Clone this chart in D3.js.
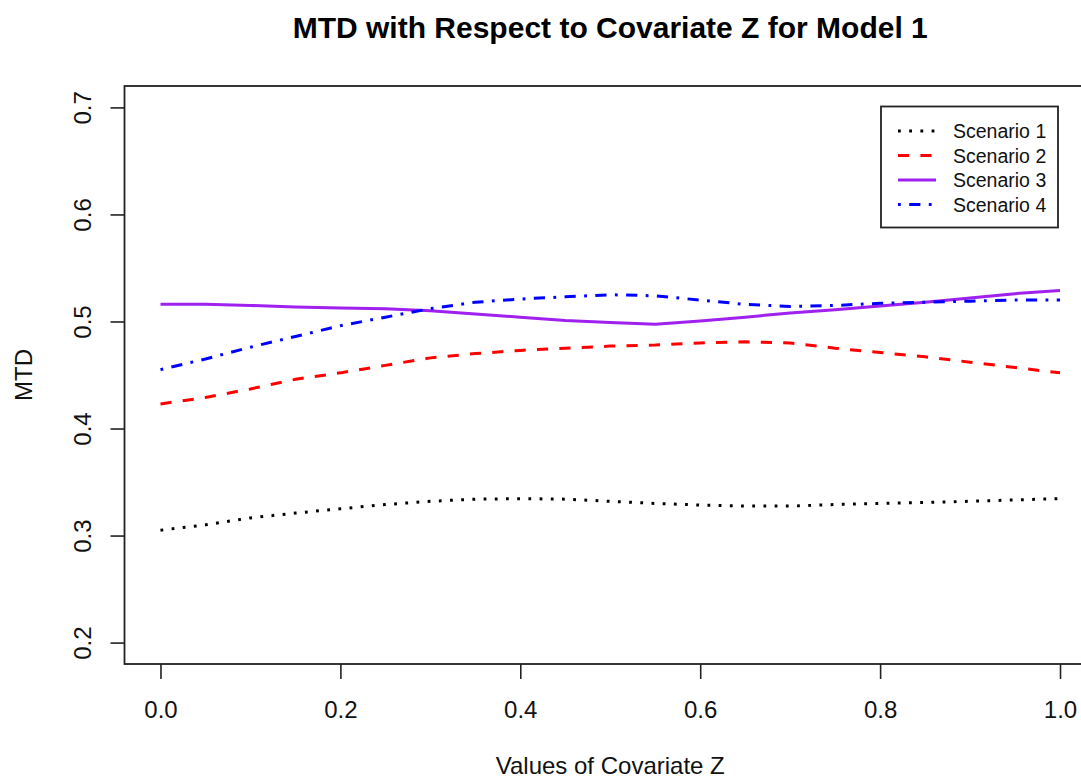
<!DOCTYPE html>
<html>
<head>
<meta charset="utf-8">
<script src="https://cdn.jsdelivr.net/npm/d3@7"></script>
<style>
  html, body { margin: 0; padding: 0; background: #fff; }
  svg { display: block; font-family: "Liberation Sans", Arial, sans-serif; }
</style>
</head>
<body>
<svg id="chart" width="1081" height="780"></svg>
<script>
// ---- data ----
const zValues = [0.00, 0.05, 0.10, 0.15, 0.20, 0.25, 0.30, 0.35, 0.40, 0.45, 0.50,
                 0.55, 0.60, 0.65, 0.70, 0.75, 0.80, 0.85, 0.90, 0.95, 1.00];
const scenario1 = [0.305, 0.310, 0.3165, 0.321, 0.325, 0.329, 0.332, 0.334, 0.3345, 0.334, 0.332,
                   0.330, 0.3285, 0.3275, 0.3275, 0.329, 0.330, 0.331, 0.332, 0.3333, 0.3345];
const scenario2 = [0.423, 0.429, 0.437, 0.446, 0.452, 0.459, 0.466, 0.470, 0.473, 0.475, 0.477,
                   0.478, 0.480, 0.481, 0.480, 0.475, 0.471, 0.467, 0.462, 0.457, 0.452];
const scenario3 = [0.516, 0.516, 0.515, 0.5135, 0.5125, 0.512, 0.510, 0.507, 0.504, 0.501, 0.499,
                   0.4975, 0.5005, 0.504, 0.508, 0.511, 0.5145, 0.518, 0.522, 0.526, 0.529];
const scenario4 = [0.455, 0.465, 0.476, 0.486, 0.496, 0.504, 0.512, 0.518, 0.521, 0.523, 0.525,
                   0.524, 0.520, 0.516, 0.514, 0.515, 0.517, 0.518, 0.519, 0.520, 0.520];
const seriesNames = ["Scenario 1", "Scenario 2", "Scenario 3", "Scenario 4"];
const xTicks = [0.0, 0.2, 0.4, 0.6, 0.8, 1.0];
const yTicks = [0.2, 0.3, 0.4, 0.5, 0.6, 0.7];
const titleText = "MTD with Respect to Covariate Z for Model 1";
const xLabel = "Values of Covariate Z";
const yLabel = "MTD";

// ---- styles ----
const seriesColors = ["#000000", "#ff0000", "#a020f0", "#0000ff"];
const u = 2.8;
const seriesDash = [`${u},${3*u}`, `${4*u},${4*u}`, null, `${u},${3*u},${4*u},${3*u}`];

const svg = d3.select("#chart");
const mLeft = 124.5, mRight = 1096, mTop = 86, mBottom = 664;

const x = d3.scaleLinear().domain([-0.04, 1.04]).range([mLeft, mRight]);
const y = d3.scaleLinear().domain([0.18, 0.72]).range([mBottom, mTop]);

// title
svg.append("text")
  .attr("x", (mLeft + mRight) / 2).attr("y", 38)
  .attr("text-anchor", "middle")
  .attr("font-size", 30).attr("font-weight", "bold")
  .attr("fill", "#000")
  .text(titleText);

// x axis
const gx = svg.append("g").attr("transform", `translate(0,${mBottom})`)
  .call(d3.axisBottom(x).tickValues(xTicks).tickFormat(d3.format(".1f")).tickSize(15).tickSizeOuter(0));
gx.select(".domain").remove();
gx.selectAll(".tick line").attr("stroke", "#222").attr("stroke-width", 1.6);
gx.selectAll(".tick text").attr("y", 54).attr("dy", 0)
  .attr("font-size", 24).attr("font-family", "Liberation Sans, Arial, sans-serif").attr("fill", "#111");

// y axis
const gy = svg.append("g").attr("transform", `translate(${mLeft},0)`)
  .call(d3.axisLeft(y).tickValues(yTicks).tickFormat(d3.format(".1f")).tickSize(14).tickSizeOuter(0));
gy.select(".domain").remove();
gy.selectAll(".tick line").attr("stroke", "#222").attr("stroke-width", 1.6);
gy.selectAll(".tick text")
  .attr("x", 0).attr("y", -34).attr("dy", 0)
  .attr("text-anchor", "middle")
  .attr("transform", "rotate(-90)")
  .attr("font-size", 24).attr("font-family", "Liberation Sans, Arial, sans-serif").attr("fill", "#111");

// box
svg.append("rect")
  .attr("x", mLeft).attr("y", mTop)
  .attr("width", mRight - mLeft).attr("height", mBottom - mTop)
  .attr("fill", "none").attr("stroke", "#222").attr("stroke-width", 1.8);

// axis titles
svg.append("text")
  .attr("x", (mLeft + mRight) / 2).attr("y", 774)
  .attr("text-anchor", "middle").attr("font-size", 24).attr("fill", "#111")
  .text(xLabel);
svg.append("text")
  .attr("transform", `translate(32,${(mTop + mBottom) / 2}) rotate(-90)`)
  .attr("text-anchor", "middle").attr("font-size", 24).attr("fill", "#111")
  .text(yLabel);

// lines
const allSeries = [scenario1, scenario2, scenario3, scenario4];
const line = d3.line().x((d, i) => x(zValues[i])).y(d => y(d));
allSeries.forEach((s, k) => {
  svg.append("path")
    .datum(s)
    .attr("d", line)
    .attr("fill", "none")
    .attr("stroke", seriesColors[k])
    .attr("stroke-width", 3)
    .attr("stroke-dasharray", seriesDash[k])
    .attr("stroke-linecap", "butt");
});

// legend
const lg = svg.append("g");
lg.append("rect")
  .attr("x", 881).attr("y", 106.5).attr("width", 177).attr("height", 121)
  .attr("fill", "#fff").attr("stroke", "#222").attr("stroke-width", 1.8);
const rowY = [131, 155.5, 180, 204.5];
seriesNames.forEach((name, k) => {
  lg.append("line")
    .attr("x1", 898).attr("x2", 936)
    .attr("y1", rowY[k]).attr("y2", rowY[k])
    .attr("stroke", seriesColors[k]).attr("stroke-width", 3)
    .attr("stroke-dasharray", seriesDash[k]);
  lg.append("text")
    .attr("x", 953).attr("y", rowY[k] + 7)
    .attr("font-size", 19.5).attr("fill", "#111")
    .text(name);
});
</script>
</body>
</html>
